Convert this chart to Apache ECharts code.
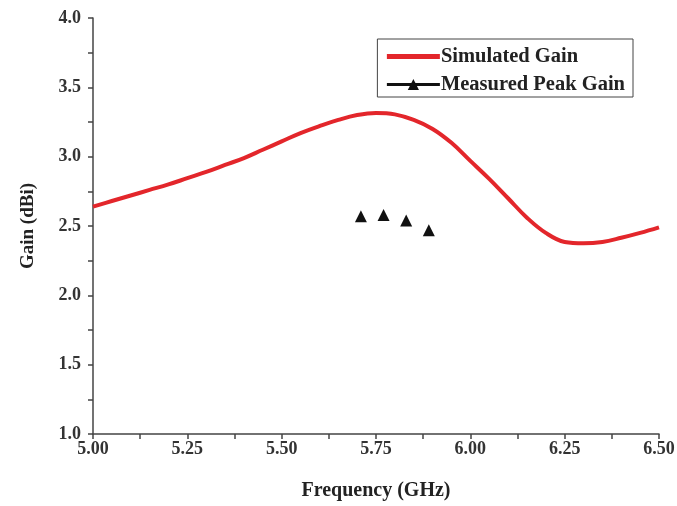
<!DOCTYPE html>
<html>
<head>
<meta charset="utf-8">
<script src="https://cdn.jsdelivr.net/npm/echarts@6/dist/echarts.min.js"></script>
<style>
  html, body { margin: 0; padding: 0; background: #fff; }
  #chart { width: 677px; height: 506px; }
</style>
</head>
<body>
<div id="chart"></div>
<script>
// simulated gain curve (GHz, dBi)
const simFreq = [5.00, 5.05, 5.10, 5.15, 5.20, 5.25, 5.30, 5.35, 5.40, 5.45, 5.50,
  5.55, 5.60, 5.65, 5.70, 5.75, 5.80, 5.85, 5.90, 5.95, 6.00,
  6.05, 6.10, 6.15, 6.20, 6.25, 6.30, 6.35, 6.40, 6.45, 6.50];
const simGain = [2.64, 2.68, 2.72, 2.76, 2.80, 2.845, 2.89, 2.94, 2.99, 3.05, 3.11,
  3.17, 3.22, 3.265, 3.30, 3.315, 3.305, 3.265, 3.20, 3.10, 2.97,
  2.84, 2.70, 2.56, 2.45, 2.385, 2.375, 2.385, 2.415, 2.45, 2.49];

// measured peak gain
const measFreq = [5.71, 5.77, 5.83, 5.89];
const measGain = [2.57, 2.58, 2.54, 2.47];

const font = '"Liberation Serif", "Times New Roman", serif';

const myChart = echarts.init(document.getElementById('chart'));

var option = {
  backgroundColor: '#fff',
  animation: false,
  grid: {
    left: 93,
    right: 18,
    top: 18,
    bottom: 72,
    outerBoundsMode: 'none'
  },
  legend: {
    right: 44,
    top: 39,
    orient: 'vertical',
    padding: [7, 8, 2, 7],
    borderColor: '#444',
    borderWidth: 1,
    itemWidth: 53,
    itemHeight: 14,
    itemGap: 7,
    textStyle: {
      fontFamily: font,
      fontWeight: 'bold',
      fontSize: 20.5,
      lineHeight: 20,
      color: '#222',
      padding: [0, 0, 0, -4]
    },
    data: [
      { name: 'Simulated Gain', itemStyle: { opacity: 0 }, lineStyle: { width: 5 } },
      {
        name: 'Measured Peak Gain',
        lineStyle: { color: '#111', width: 3, opacity: 1 }
      }
    ]
  },
  xAxis: {
    type: 'value',
    min: 5.0,
    max: 6.5,
    interval: 0.25,
    name: 'Frequency (GHz)',
    nameLocation: 'middle',
    nameGap: 47,
    nameTextStyle: { fontFamily: font, fontWeight: 'bold', fontSize: 20, color: '#222' },
    axisLine: { lineStyle: { color: '#444', width: 1.5 } },
    axisTick: { length: 5, lineStyle: { color: '#444', width: 1.5 } },
    minorTick: { show: true, splitNumber: 2, length: 5, lineStyle: { color: '#444', width: 1.5 } },
    splitLine: { show: false },
    axisLabel: {
      fontFamily: font, fontWeight: 'bold', fontSize: 18, color: '#333', margin: 6,
      formatter: v => v.toFixed(2)
    }
  },
  yAxis: {
    type: 'value',
    min: 1.0,
    max: 4.0,
    interval: 0.5,
    name: 'Gain (dBi)',
    nameLocation: 'middle',
    nameGap: 55,
    nameTextStyle: { fontFamily: font, fontWeight: 'bold', fontSize: 19, color: '#222' },
    axisLine: { show: true, lineStyle: { color: '#444', width: 1.5 } },
    axisTick: { show: true, length: 5, lineStyle: { color: '#444', width: 1.5 } },
    minorTick: { show: true, splitNumber: 2, length: 5, lineStyle: { color: '#444', width: 1.5 } },
    splitLine: { show: false },
    axisLabel: {
      fontFamily: font, fontWeight: 'bold', fontSize: 18, color: '#333', margin: 12,
      formatter: v => v.toFixed(1)
    }
  },
  series: [
    {
      name: 'Simulated Gain',
      type: 'line',
      smooth: 0.4,
      symbol: 'none',
      data: simFreq.map((f, i) => [f, simGain[i]]),
      lineStyle: { color: '#e3262b', width: 4 },
      itemStyle: { color: '#e3262b' }
    },
    {
      name: 'Measured Peak Gain',
      type: 'line',
      data: measFreq.map((f, i) => [f, measGain[i]]),
      symbol: 'triangle',
      symbolSize: 12,
      showAllSymbol: true,
      lineStyle: { width: 0, opacity: 0 },
      itemStyle: { color: '#111' }
    }
  ]
};

myChart.setOption(option);
</script>
</body>
</html>
